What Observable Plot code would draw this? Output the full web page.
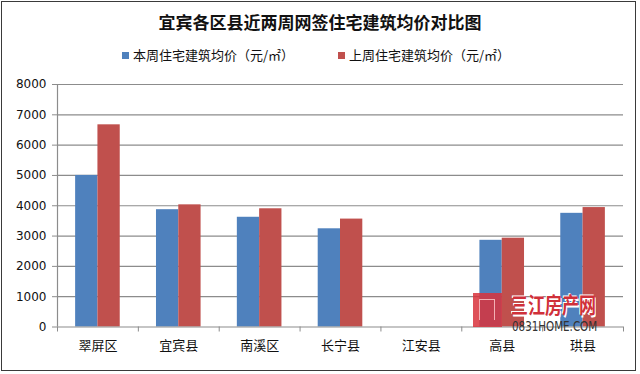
<!DOCTYPE html>
<html>
<head>
<meta charset="utf-8">
<script src="https://cdn.jsdelivr.net/npm/d3@7"></script>
<script src="https://cdn.jsdelivr.net/npm/@observablehq/plot@0.6"></script>
<style>
  body { margin: 0; background: #fff; }
  #wrap { position: relative; width: 640px; height: 374px; overflow: hidden; background: #fff; }
  #frame { position: absolute; left: 1px; top: 1px; width: 633px; height: 368px; border: 1.5px solid #3a3a3a; }
  #title { position: absolute; left: 0; top: 10px; width: 640px; text-align: center;
           font: bold 17px "Noto Sans CJK SC", sans-serif; color: #111; line-height: 24px; }
  .leg { position: absolute; top: 46px; font: 13px "Noto Sans CJK SC", sans-serif; color: #111; line-height: 18px; white-space: nowrap; }
  .sw { display: inline-block; width: 7px; height: 7px; margin-right: 4px; vertical-align: 1px; }
  #chart { position: absolute; left: 0; top: 70px; }
  #wm { position: absolute; left: 473px; top: 292px; }
  #logo { position: absolute; left: 0; top: 1px; width: 29px; height: 34px; background: #d8323c; opacity: 0.85; }
  #logo2 { position: absolute; left: 6px; top: 7px; width: 14px; height: 20px; border: 1px solid #f3b0b4; border-bottom: none; }
  #wm1 { position: absolute; left: 38px; top: 0px; font: bold 17px "Noto Sans CJK SC", sans-serif; color: #d0303a; white-space: nowrap; line-height: 20px;
         transform: scaleY(1.25); transform-origin: 0 0; text-shadow: 1px 1px 0 #fff, -1px -1px 0 #fff; }
  #wm2 { position: absolute; left: 39px; top: 27px; font: 14px "Liberation Sans Narrow", "DejaVu Sans Condensed", sans-serif; color: #333; white-space: nowrap; line-height: 14px;
         transform: scaleX(0.82); transform-origin: 0 0; }
</style>
</head>
<body>
<div id="wrap">
  <div id="frame"></div>
  <div id="title"></div>
  <div class="leg" id="leg1" style="left:122px"></div>
  <div class="leg" id="leg2" style="left:338px"></div>
  <div id="chart"></div>
  <div id="wm"><div id="logo"></div><div id="logo2"></div><div id="wm1">三江房产网</div><div id="wm2">0831HOME.COM</div></div>
</div>
<script>
const title = "宜宾各区县近两周网签住宅建筑均价对比图";
const districts = ["翠屏区", "宜宾县", "南溪区", "长宁县", "江安县", "高县", "珙县"];
const seriesNames = ["本周住宅建筑均价（元/㎡）", "上周住宅建筑均价（元/㎡）"];
const thisWeek = [5000, 3870, 3620, 3240, null, 2860, 3750];
const lastWeek = [6670, 4030, 3900, 3560, null, 2930, 3940];
const yTicks = [0, 1000, 2000, 3000, 4000, 5000, 6000, 7000, 8000];
const colors = ["#4F81BD", "#C0504D"];

document.getElementById("title").textContent = title;
document.getElementById("leg1").innerHTML = `<span class="sw" style="background:${colors[0]}"></span>${seriesNames[0]}`;
document.getElementById("leg2").innerHTML = `<span class="sw" style="background:${colors[1]}"></span>${seriesNames[1]}`;

const rows = districts.map((d, i) => ({district: d, a: thisWeek[i], b: lastWeek[i]}));

const W = 640, H = 300;
const mL = 57, mR = 17, mT = 14, mB = 43.5;
const bw = (W - mL - mR) / districts.length;
const barW = 22.3;
const outer = bw / 2 - barW;

const chart = Plot.plot({
  width: W, height: H,
  marginLeft: mL, marginRight: mR, marginTop: mT, marginBottom: mB,
  style: {fontFamily: "DejaVu Sans, sans-serif", fontSize: "12px", color: "#111", background: "transparent"},
  x: {domain: districts, padding: 0, round: false, label: null},
  y: {domain: [0, 8000], label: null},
  marks: [
    Plot.ruleY(yTicks.filter(t => t > 0), {stroke: "#8c8c8c", strokeWidth: 1.2}),
    Plot.barY(rows.filter(r => r.a != null), {x: "district", y: "a", fill: colors[0], insetLeft: outer, insetRight: bw / 2}),
    Plot.barY(rows.filter(r => r.b != null), {x: "district", y: "b", fill: colors[1], insetLeft: bw / 2, insetRight: outer}),
    Plot.ruleY([0], {stroke: "#8c8c8c", strokeWidth: 1.2}),
    Plot.ruleX([districts[0]], {x: d => d, dx: -bw / 2, stroke: "#8c8c8c", strokeWidth: 1.2}),
    Plot.ruleX(districts, {x: d => d, dx: -bw / 2, y1: 0, y2: 0, insetBottom: -5, stroke: "#8c8c8c"}),
    Plot.ruleX([districts[districts.length - 1]], {x: d => d, dx: bw / 2, y1: 0, y2: 0, insetBottom: -5, stroke: "#8c8c8c"}),
    Plot.axisY({ticks: yTicks, tickSize: 5, tickPadding: 6, stroke: "#8c8c8c", label: null, tickFormat: d => String(d)}),
    Plot.axisX({tickSize: 0, tickPadding: 14, label: null, fontSize: 13, fontFamily: "Noto Sans CJK SC, sans-serif"})
  ]
});
document.getElementById("chart").appendChild(chart);
</script>
</body>
</html>
